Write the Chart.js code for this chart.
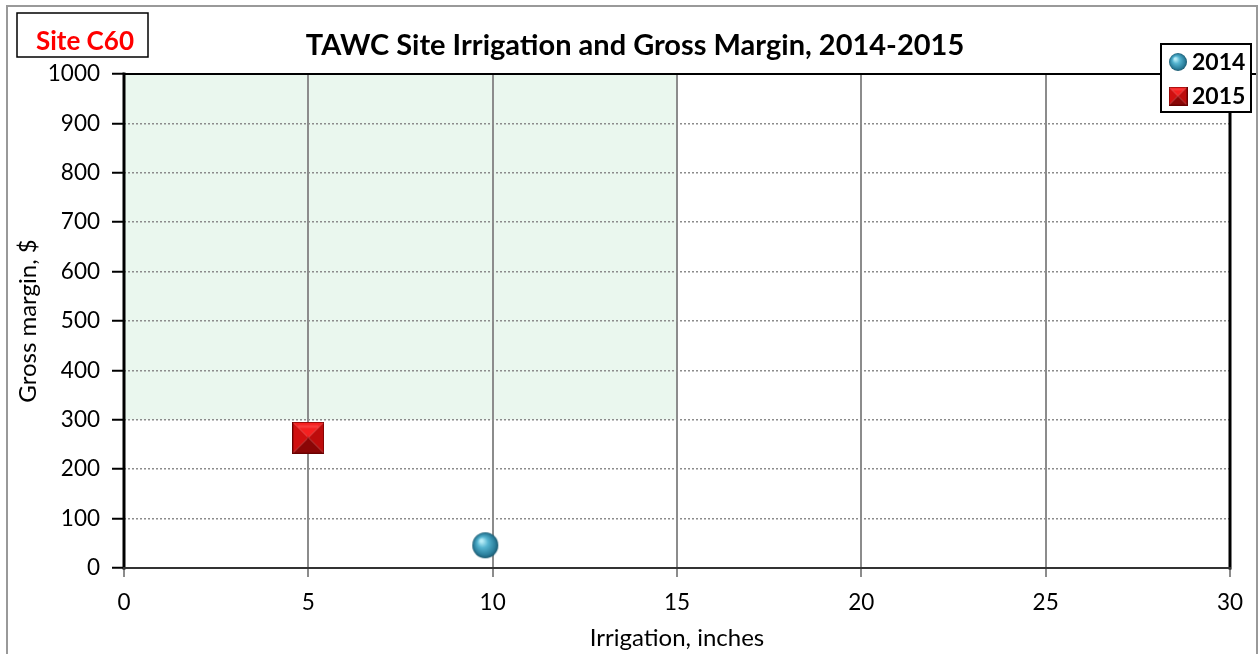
<!DOCTYPE html>
<html>
<head>
<meta charset="utf-8">
<title>TAWC Site Irrigation and Gross Margin</title>
<script src="https://cdn.jsdelivr.net/npm/chart.js@4.4.1/dist/chart.umd.min.js"></script>
<style>
  html, body { margin: 0; padding: 0; background: #fff; }
  #wrap { position: relative; width: 1260px; height: 654px; }
</style>
</head>
<body>
<div id="wrap"><canvas id="myChart" width="1260" height="654"></canvas></div>
<script>
// data
const seriesLabels = ["2014", "2015"];
const irrigation2014 = [9.8];
const margin2014 = [46];
const irrigation2015 = [5];
const margin2015 = [264];
const xTickValues = [0, 5, 10, 15, 20, 25, 30];
const yTickValues = [0, 100, 200, 300, 400, 500, 600, 700, 800, 900, 1000];
const zoneIrrigationMax = [15];
const zoneMarginMin = [300];
const siteName = "Site C60";
const chartTitle = "TAWC Site Irrigation and Gross Margin, 2014-2015";

const FONT = "Lato, 'Open Sans', sans-serif";

// marker images
function makeSphere(r) {
  const c = document.createElement("canvas");
  c.width = c.height = r * 2 + 2;
  const g = c.getContext("2d");
  const cx = r + 1, cy = r + 1;
  const grad = g.createRadialGradient(cx - r * 0.3, cy - r * 0.35, r * 0.1, cx, cy, r);
  grad.addColorStop(0, "#b6ecf7");
  grad.addColorStop(0.35, "#55b4d0");
  grad.addColorStop(0.8, "#2b7f9c");
  grad.addColorStop(1, "#1c5a70");
  g.fillStyle = grad;
  g.beginPath();
  g.arc(cx, cy, r, 0, Math.PI * 2);
  g.fill();
  return c;
}

function makePyramid(s) {
  const c = document.createElement("canvas");
  c.width = c.height = s;
  const g = c.getContext("2d");
  const m = s / 2, b = s * 0.18;
  const tri = (pts, col) => {
    g.fillStyle = col;
    g.beginPath();
    g.moveTo(pts[0][0], pts[0][1]);
    for (let i = 1; i < pts.length; i++) g.lineTo(pts[i][0], pts[i][1]);
    g.closePath();
    g.fill();
  };
  tri([[0, 0], [s, 0], [m, m]], "#f52020");
  tri([[0, 0], [m, m], [0, s]], "#d01010");
  tri([[s, 0], [s, s], [m, m]], "#bd0c0c");
  tri([[0, s], [m, m], [s, s]], "#8a0606");
  g.fillStyle = "rgba(255,110,110,0.35)";
  g.fillRect(b, b * 0.6, s - 2 * b, b * 0.5);
  g.strokeStyle = "#6a0000";
  g.lineWidth = 1;
  g.strokeRect(0.5, 0.5, s - 1, s - 1);
  return c;
}

const sphereImg = makeSphere(13);
const pyramidImg = makePyramid(32);
const sphereSmall = makeSphere(9);
const pyramidSmall = makePyramid(19);

const backgroundPlugin = {
  id: "background",
  beforeDraw(chart) {
    const ctx = chart.ctx;
    const x = chart.scales.x, y = chart.scales.y;
    ctx.save();
    ctx.fillStyle = "#fff";
    ctx.fillRect(0, 0, chart.width, chart.height);
    // target zone
    ctx.fillStyle = "#eaf7ee";
    const x0 = x.getPixelForValue(x.min), x1 = x.getPixelForValue(zoneIrrigationMax[0]);
    const y0 = y.getPixelForValue(y.max), y1 = y.getPixelForValue(zoneMarginMin[0]);
    ctx.fillRect(x0, y0, x1 - x0, y1 - y0);
    ctx.restore();
  }
};

const framePlugin = {
  id: "frame",
  beforeDatasetsDraw(chart) {
    const ctx = chart.ctx;
    const a = chart.chartArea;
    ctx.save();
    ctx.lineCap = "square";
    ctx.strokeStyle = "#000";
    ctx.lineWidth = 3;
    ctx.beginPath();
    ctx.moveTo(a.left, a.bottom);
    ctx.lineTo(a.left, a.top);
    ctx.moveTo(a.right, a.top);
    ctx.lineTo(a.right, a.bottom);
    ctx.stroke();
    ctx.lineWidth = 2;
    ctx.beginPath();
    ctx.moveTo(a.left, a.top);
    ctx.lineTo(a.right + 25, a.top);
    ctx.stroke();
    ctx.strokeStyle = "#333";
    ctx.beginPath();
    ctx.moveTo(a.left, a.bottom);
    ctx.lineTo(a.right, a.bottom);
    ctx.stroke();
    ctx.restore();
  },
  afterDraw(chart) {
    const ctx = chart.ctx;
    ctx.save();
    // outer border
    ctx.strokeStyle = "#999";
    ctx.lineWidth = 2;
    ctx.strokeRect(7, 6, 1250, 700);
    // site label
    ctx.fillStyle = "#fff";
    ctx.fillRect(17, 13, 131, 44);
    ctx.strokeStyle = "#000";
    ctx.lineWidth = 1.5;
    ctx.strokeRect(17, 13, 131, 44);
    ctx.fillStyle = "#ff0000";
    ctx.font = "bold 26px " + FONT;
    ctx.textAlign = "center";
    ctx.textBaseline = "middle";
    ctx.fillText(siteName, 85, 42);
    // title
    ctx.fillStyle = "#000";
    ctx.font = "bold 29px " + FONT;
    ctx.fillText(chartTitle, 635, 46);
    // legend
    ctx.fillStyle = "#fff";
    ctx.fillRect(1161, 44, 90, 68);
    ctx.strokeStyle = "#000";
    ctx.lineWidth = 2;
    ctx.strokeRect(1161, 44, 90, 68);
    const icons = [sphereSmall, pyramidSmall];
    const rows = [62, 96];
    ctx.font = "bold 23px " + FONT;
    ctx.textAlign = "left";
    chart.data.datasets.forEach((ds, i) => {
      const img = icons[i];
      ctx.drawImage(img, 1178 - img.width / 2, rows[i] - img.height / 2);
      ctx.fillStyle = "#000";
      ctx.fillText(ds.label, 1192, rows[i] + 1);
    });
    ctx.restore();
  }
};

const ctx = document.getElementById("myChart").getContext("2d");

const myChart = new Chart(ctx, {
  type: "scatter",
  data: {
    datasets: [
      {
        label: seriesLabels[0],
        data: irrigation2014.map((v, i) => ({ x: v, y: margin2014[i] })),
        pointStyle: sphereImg,
      },
      {
        label: seriesLabels[1],
        data: irrigation2015.map((v, i) => ({ x: v, y: margin2015[i] })),
        pointStyle: pyramidImg,
      },
    ],
  },
  options: {
    responsive: false,
    animation: false,
    layout: { padding: { left: 0, top: 74, right: 30, bottom: 0 } },
    plugins: {
      legend: { display: false },
      title: { display: false },
      tooltip: { enabled: false },
    },
    scales: {
      x: {
        type: "linear",
        min: 0,
        max: 30,
        afterBuildTicks(scale) {
          scale.ticks = xTickValues.map((v) => ({ value: v }));
        },
        afterFit(scale) {
          scale.height = 86;
        },
        border: { display: false },
        grid: {
          color: "#8c8c8c",
          lineWidth: 2,
          tickLength: 9,
          tickColor: "#8c8c8c",
        },
        ticks: {
          color: "#000",
          padding: 12,
          font: { family: FONT, size: 22.5 },
          maxRotation: 0,
          callback: (v) => String(v),
        },
        title: {
          display: true,
          text: "Irrigation, inches",
          color: "#000",
          font: { family: FONT, size: 24 },
          padding: { top: 0, bottom: 1 },
        },
      },
      y: {
        type: "linear",
        min: 0,
        max: 1000,
        afterBuildTicks(scale) {
          scale.ticks = yTickValues.map((v) => ({ value: v }));
        },
        afterFit(scale) {
          scale.width = 124;
        },
        border: { display: false, dash: [2, 2] },
        grid: {
          color: "#8c8c8c",
          lineWidth: 1.5,
          tickLength: 12,
          tickColor: "#000",
          tickWidth: 2,
          tickBorderDash: [],
        },
        ticks: {
          color: "#000",
          padding: 12,
          font: { family: FONT, size: 22.5 },
          callback: (v) => String(v),
        },
        title: {
          display: true,
          text: "Gross margin, $",
          color: "#000",
          font: { family: FONT, size: 24 },
          padding: { top: 14, bottom: 0 },
        },
      },
    },
  },
  plugins: [backgroundPlugin, framePlugin],
});
</script>
</body>
</html>
